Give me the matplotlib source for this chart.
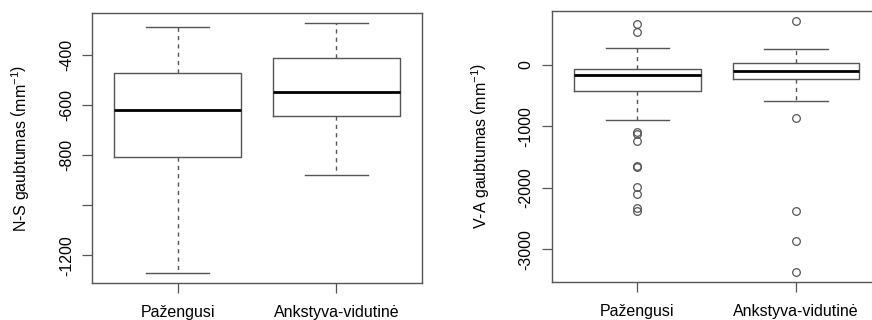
"""N-S and V-A curvature by disease stage, drawn as side-by-side boxplots."""

import matplotlib
matplotlib.use("Agg")
import matplotlib.pyplot as plt

plt.rcParams["font.family"] = ["Liberation Sans", "DejaVu Sans"]
plt.rcParams["mathtext.fontset"] = "custom"
plt.rcParams["mathtext.rm"] = "Liberation Sans"
plt.rcParams["mathtext.it"] = "Liberation Sans:italic"

groups = ["Pažengusi", "Ankstyva-vidutinė"]

# N-S curvature: whisker low, Q1, median, Q3, whisker high
ns_whislo = [-1271, -881]
ns_q1 = [-809, -644]
ns_med = [-619, -551]
ns_q3 = [-474, -412]
ns_whishi = [-291, -274]
ns_fliers = [[], []]

# V-A curvature
va_whislo = [-901, -591]
va_q1 = [-418, -233]
va_med = [-163, -103]
va_q3 = [-65, 38]
va_whishi = [277, 265]
va_fliers = [
    [663, 533, -1086, -1129, -1238, -1640, -1666, -1995, -2100, -2334, -2378],
    [717, -863, -2383, -2860, -3366],
]

ns_ticks = [-400, -600, -800, -1000, -1200]
ns_ticklabels = ["-400", "-600", "-800", "", "-1200"]
va_ticks = [0, -1000, -2000, -3000]
va_ticklabels = ["0", "-1000", "-2000", "-3000"]

EDGE = "#555555"
FS = 11.5


def draw_panel(ax, whislo, q1, med, q3, whishi, fliers, ticks, ticklabels, ylabel):
    stats = []
    for i in range(len(groups)):
        stats.append(dict(whislo=whislo[i], q1=q1[i], med=med[i], q3=q3[i],
                          whishi=whishi[i], fliers=fliers[i]))
    ax.bxp(stats, positions=[1, 2], widths=0.8, showfliers=True,
           boxprops=dict(color=EDGE, linewidth=1.0),
           whiskerprops=dict(color=EDGE, linewidth=1.0, linestyle=(0, (3, 3))),
           capprops=dict(color=EDGE, linewidth=1.0),
           medianprops=dict(color="black", linewidth=2.0, solid_capstyle="butt"),
           flierprops=dict(marker="o", markersize=5.5, markerfacecolor="none",
                           markeredgecolor=EDGE, markeredgewidth=0.9,
                           linestyle="none"),
           capwidths=0.4)

    # y range padded 4% beyond the data, as base R does
    vals = list(whislo) + list(whishi) + [v for f in fliers for v in f]
    lo, hi = min(vals), max(vals)
    pad = 0.04 * (hi - lo)
    ax.set_ylim(lo - pad, hi + pad)
    ax.set_xlim(0.46, 2.54)

    ax.set_xticks([1, 2])
    ax.set_xticklabels(groups, fontsize=FS)
    ax.set_yticks(ticks)
    ax.set_yticklabels(ticklabels, fontsize=FS, rotation=90, va="center")
    ax.tick_params(axis="both", length=7, width=0.9, color=EDGE, direction="out")
    ax.tick_params(axis="x", pad=9)
    ax.tick_params(axis="y", pad=6)
    for sp in ax.spines.values():
        sp.set_color(EDGE)
        sp.set_linewidth(1.0)
    ax.set_ylabel(ylabel, fontsize=FS, labelpad=20)


fig = plt.figure(figsize=(8.72, 3.2), dpi=100)
ax1 = fig.add_axes([0.1055, 0.1156, 0.3784, 0.8438])
ax2 = fig.add_axes([0.6327, 0.1197, 0.3784, 0.8460])

draw_panel(ax1, ns_whislo, ns_q1, ns_med, ns_q3, ns_whishi, ns_fliers,
           ns_ticks, ns_ticklabels, r"N-S gaubtumas $\left(\mathrm{mm}^{-1}\right)$")
draw_panel(ax2, va_whislo, va_q1, va_med, va_q3, va_whishi, va_fliers,
           va_ticks, va_ticklabels, r"V-A gaubtumas $\left(\mathrm{mm}^{-1}\right)$")

fig.savefig("out.png", dpi=100)
plt.close(fig)
